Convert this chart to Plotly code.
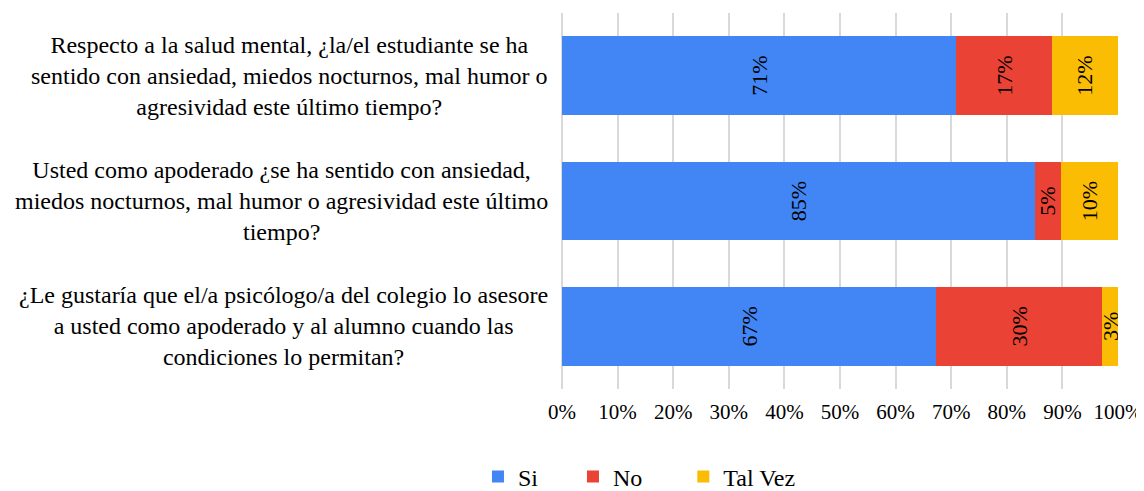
import plotly.graph_objects as go

preguntas = [
    'Respecto a la salud mental, ¿la/el estudiante se ha<br>sentido con ansiedad, miedos nocturnos, mal humor o<br>agresividad este último tiempo?',
    'Usted como apoderado ¿se ha sentido con ansiedad,<br>miedos nocturnos, mal humor o agresividad este último<br>tiempo?',
    '¿Le gustaría que el/a psicólogo/a del colegio lo asesore<br>a usted como apoderado y al alumno cuando las<br>condiciones lo permitan?',
]
si = [70.9, 85.0, 67.3]
no = [17.2, 4.8, 29.9]
tal_vez = [11.9, 10.2, 2.8]

series = [('Si', si, '#4285F4', 5), ('No', no, '#EA4335', 6), ('Tal Vez', tal_vez, '#FBBC04', 0)]
font_family = 'Liberation Serif'

fig = go.Figure()
for name, values, color, pad in series:
    fig.add_trace(go.Bar(x=values,
                         y=preguntas,
                         name=name + '\u00a0' * pad,  # legend spacing between entries
                         orientation='h',
                         marker=dict(color=color, line=dict(width=0)),
                         texttemplate='%{x:.0f}%',
                         textposition='inside',
                         insidetextanchor='middle',
                         textangle=-90,
                         constraintext='none',
                         textfont=dict(family=font_family, size=22, color='black'),
                         hoverinfo='skip'))

for q in preguntas:
    fig.add_annotation(x=-0.022, xref='paper', y=q, yref='y',
                       text=q, showarrow=False,
                       xanchor='right', yanchor='middle', align='center',
                       font=dict(family=font_family, size=24, color='black'))

# page body has an 8px margin, so the figure is a bit smaller than the window
fig.update_layout(width=1136,
                  height=483,
                  barmode='stack',
                  bargap=0.37,
                  plot_bgcolor='white',
                  paper_bgcolor='white',
                  margin=dict(l=554, r=26, t=5, b=102, autoexpand=False),
                  font=dict(family=font_family, size=21, color='black'),
                  xaxis=dict(range=[0, 100],
                             tick0=0,
                             dtick=10,
                             ticksuffix='%',
                             showgrid=True,
                             gridcolor='#d9d9d9',
                             gridwidth=2,
                             zeroline=True,
                             zerolinecolor='#d9d9d9',
                             zerolinewidth=2,
                             ticklabelstandoff=8,
                             tickfont=dict(size=21)),
                  yaxis=dict(autorange='reversed',
                             showticklabels=False,
                             showgrid=False),
                  legend=dict(orientation='h',
                              xref='container',
                              yref='container',
                              x=0.4137,
                              xanchor='left',
                              y=0.029,
                              yanchor='middle',
                              itemwidth=30,
                              font=dict(size=24),
                              traceorder='normal'),
                  hovermode=False)

fig.write_html("out.html")
